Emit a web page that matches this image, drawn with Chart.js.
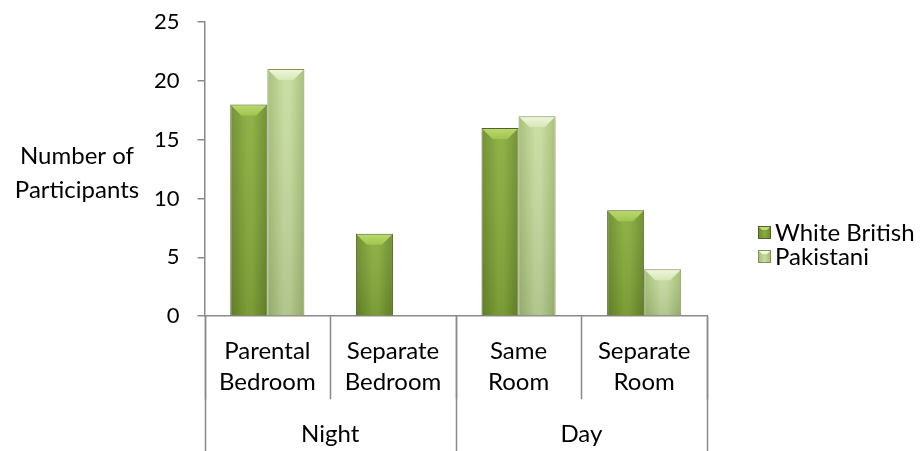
<!DOCTYPE html>
<html>
<head>
<meta charset="utf-8">
<script src="https://cdn.jsdelivr.net/npm/chart.js@4/dist/chart.umd.min.js"></script>
<style>
html,body{margin:0;padding:0;background:#fff;}
#wrap{width:921px;height:451px;position:relative;}
</style>
</head>
<body>
<div id="wrap"><canvas id="c"></canvas></div>
<script>
// ---- data ----
const categories = [["Parental","Bedroom"],["Separate","Bedroom"],["Same","Room"],["Separate","Room"]];
const groups = ["Night","Day"];
const seriesNames = ["White British","Pakistani"];
const whiteBritish = [18, 7, 16, 9];
const pakistani = [21, 0, 17, 4];
const yTicks = [0, 5, 10, 15, 20, 25];
const yTitle = ["Number of","Participants"];

// ---- style ----
const FONT = "Lato, Carlito, Calibri, sans-serif";
const FS = 24;      // text
const FS_NUM = 22;  // axis numbers
const AXIS = "#8a8a8a";
const CAT_PCT = 0.59;
const palettes = [
  {edge:"#6a8a2a", mid:"#88ac3c", border:"#4f6228", bevelTop:"#bcdb72", bevelBot:"#a0c44c"},
  {edge:"#a3bd72", mid:"#c6db9f", border:"#7e925a", bevelTop:"#f0f7de", bevelBot:"#d6e7b6"}
];

function barFill(ctx){
  const pal = palettes[ctx.datasetIndex];
  const chart = ctx.chart;
  const xs = chart.scales && chart.scales.x;
  if (!xs || !xs.width || ctx.dataIndex == null) return pal.mid;
  const catW = xs.width / categories.length;
  const bw = catW * CAT_PCT / 2;
  const cx = xs.getPixelForValue(ctx.dataIndex) + (ctx.datasetIndex - 0.5) * bw;
  const g = chart.ctx.createLinearGradient(cx - bw/2, 0, cx + bw/2, 0);
  g.addColorStop(0, pal.edge);
  g.addColorStop(0.45, pal.mid);
  g.addColorStop(0.6, pal.mid);
  g.addColorStop(1, pal.edge);
  return g;
}

const decor = {
  id: 'decor',
  afterDatasetsDraw(chart){
    const c = chart.ctx;
    chart.data.datasets.forEach((ds, di) => {
      const pal = palettes[di];
      chart.getDatasetMeta(di).data.forEach(el => {
        const p = el.getProps(['x','y','base','width'], true);
        const h = p.base - p.y;
        if (h < 2) return;
        const w = p.width, l = p.x - w/2, r = p.x + w/2;
        c.save();
        // vertical shading: darker toward the base
        const sh = c.createLinearGradient(0, p.y, 0, p.base);
        sh.addColorStop(0, "rgba(255,255,255,0.06)");
        sh.addColorStop(1, "rgba(0,0,0,0.10)");
        c.fillStyle = sh;
        c.fillRect(l + 1, p.y + 1, w - 2, h - 1);
        // top bevel
        const d = Math.min(11, h/2, w/3);
        const g = c.createLinearGradient(0, p.y, 0, p.y + d);
        g.addColorStop(0, pal.bevelTop);
        g.addColorStop(1, pal.bevelBot);
        c.fillStyle = g;
        c.beginPath();
        c.moveTo(l + 1, p.y + 1);
        c.lineTo(r - 1, p.y + 1);
        c.lineTo(r - d, p.y + d);
        c.lineTo(l + d, p.y + d);
        c.closePath();
        c.fill();
        c.restore();
      });
    });
  },
  afterDraw(chart){
    const c = chart.ctx;
    const xs = chart.scales.x, xg = chart.scales.x2;
    c.save();
    // category dividers (from scale geometry)
    c.strokeStyle = AXIS;
    c.lineWidth = 1.5;
    const top = xs.top;
    for (let i = 0; i <= categories.length; i++) {
      const px = Math.round(xs.getPixelForValue(i - 0.5)) + 0.5;
      c.beginPath(); c.moveTo(px, top); c.lineTo(px, top + 83); c.stroke();
    }
    for (let j = 0; j <= groups.length; j++) {
      const px = Math.round(xg.getPixelForValue(j - 0.5)) + 0.5;
      c.beginPath(); c.moveTo(px, top); c.lineTo(px, chart.height); c.stroke();
    }
    // y-axis title
    c.font = FS + "px " + FONT;
    c.fillStyle = "#000";
    c.textAlign = "center";
    c.textBaseline = "middle";
    c.fillText(yTitle[0], 77, 156);
    c.fillText(yTitle[1], 77, 190);
    // legend
    c.textAlign = "left";
    seriesNames.forEach((name, i) => {
      const pal = palettes[i];
      const yc = 232 + i * 24;
      const bx = 758, by = yc - 6, bs = 13;
      const g = c.createLinearGradient(bx, 0, bx + bs, 0);
      g.addColorStop(0, pal.edge); g.addColorStop(0.5, pal.mid); g.addColorStop(1, pal.edge);
      c.fillStyle = g;
      c.fillRect(bx, by, bs, bs);
      c.fillStyle = pal.bevelTop;
      c.beginPath();
      c.moveTo(bx, by); c.lineTo(bx + bs, by); c.lineTo(bx + bs - 4, by + 4); c.lineTo(bx + 4, by + 4); c.closePath(); c.fill();
      c.strokeStyle = pal.border; c.lineWidth = 1;
      c.strokeRect(bx + 0.5, by + 0.5, bs - 1, bs - 1);
      c.fillStyle = "#000";
      c.fillText(name, 775, yc + 1);
    });
    c.restore();
  }
};

const seriesData = [whiteBritish, pakistani];
new Chart(document.getElementById('c'), {
  type: 'bar',
  data: {
    labels: categories,
    datasets: seriesNames.map((name, i) => ({
      label: name,
      data: seriesData[i],
      backgroundColor: barFill,
      borderColor: palettes[i].border,
      borderWidth: ctx => (ctx.raw === 0 ? 0 : 1),
      borderSkipped: 'bottom',
      categoryPercentage: CAT_PCT,
      barPercentage: 1.0
    }))
  },
  options: {
    responsive: true,
    maintainAspectRatio: false,
    animation: false,
    devicePixelRatio: 1,
    layout: { padding: { left: 136, right: 214, top: 22, bottom: 0 } },
    plugins: { legend: { display: false }, tooltip: { enabled: false } },
    scales: {
      y: {
        min: 0, max: 25,
        afterBuildTicks: s => { s.ticks = yTicks.map(v => ({ value: v })); },
        ticks: { color: "#000", font: { family: FONT, size: FS_NUM, lineHeight: 0.3 }, padding: 18 },
        grid: { drawOnChartArea: false, drawTicks: true, tickLength: 7, color: AXIS, lineWidth: 1.5 },
        border: { display: true, color: AXIS, width: 1.5 }
      },
      x: {
        type: 'category',
        weight: 0,
        grid: { display: true, offset: true, drawOnChartArea: false, drawTicks: false },
        border: { display: true, color: AXIS, width: 1.5 },
        ticks: { color: "#000", font: { family: FONT, size: FS, lineHeight: 1.3 }, padding: 19.4, autoSkip: false, maxRotation: 0, minRotation: 0 }
      },
      x2: {
        type: 'category',
        labels: groups,
        position: 'bottom',
        weight: 1,
        offset: true,
        grid: { display: true, offset: true, drawOnChartArea: false, drawTicks: false },
        border: { display: false },
        ticks: { color: "#000", font: { family: FONT, size: FS, lineHeight: 1.3 }, padding: 1.2, autoSkip: false, maxRotation: 0, minRotation: 0 }
      }
    }
  },
  plugins: [decor]
});
</script>
</body>
</html>
